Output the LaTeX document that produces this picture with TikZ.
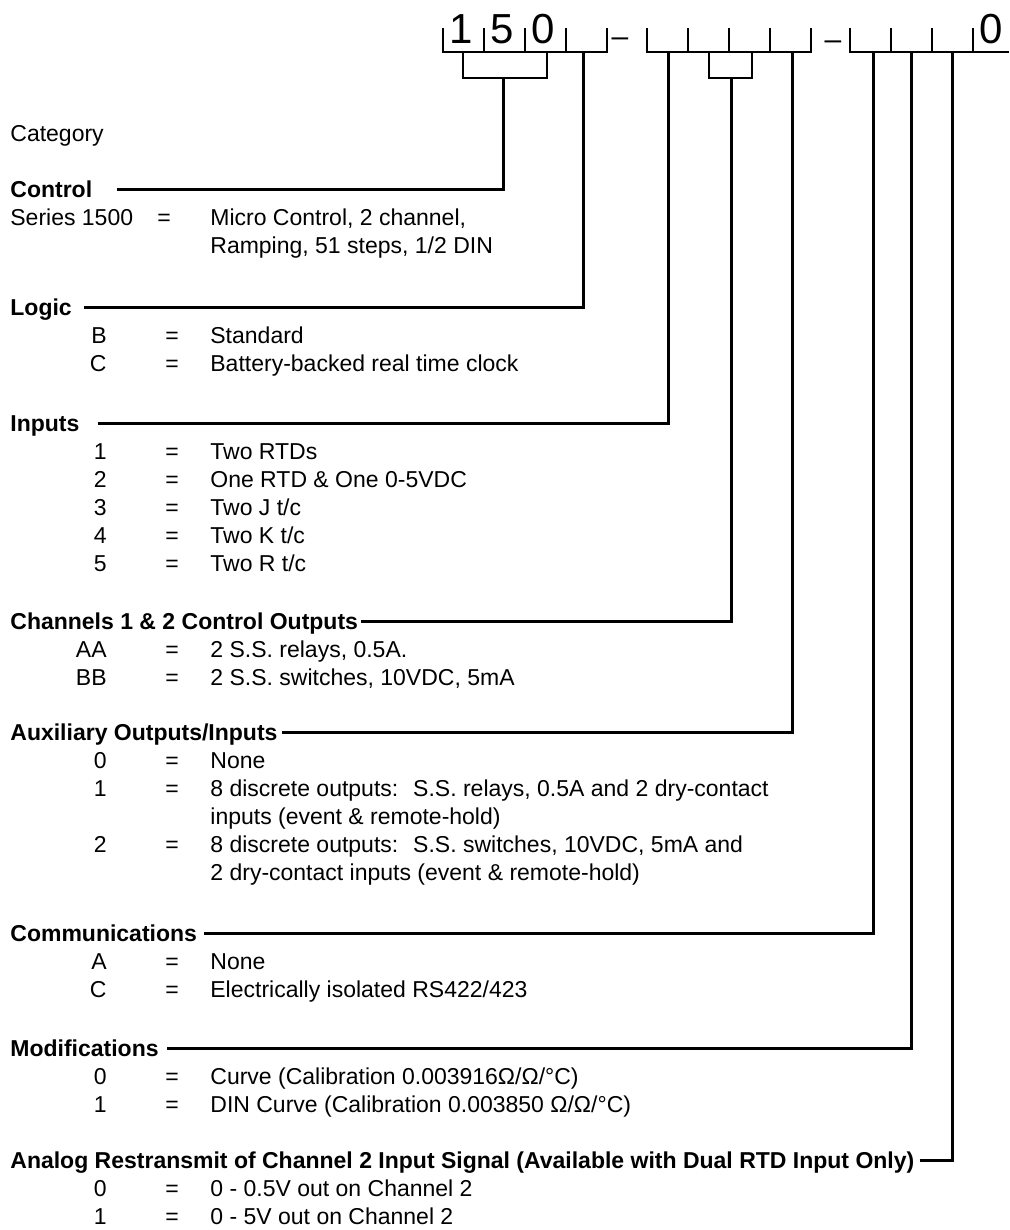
\documentclass[tikz,border=0pt]{standalone}
\usepackage{fontspec}
\setmainfont{Liberation Sans}
\usepackage{tikz}

\begin{document}
\begin{tikzpicture}[x=0.5pt,y=-0.5pt,
  hd/.style={anchor=base west,inner sep=0pt,text height=8pt,text depth=0pt,font=\fontsize{11.5}{14}\selectfont\bfseries},
  plain/.style={anchor=base west,inner sep=0pt,font=\fontsize{11.5}{14}\selectfont},
  code/.style={anchor=base east,inner sep=0pt,font=\fontsize{11.5}{14}\selectfont},
  eq/.style={anchor=base,inner sep=0pt,font=\fontsize{11.5}{14}\selectfont},
  desc/.style={anchor=base west,inner sep=0pt,font=\fontsize{11.5}{14}\selectfont},
  digit/.style={anchor=base,inner sep=0pt,font=\fontsize{21}{24}\selectfont},
  hyph/.style={anchor=base,inner sep=0pt,font=\fontsize{15}{18}\selectfont},
  slot/.style={line width=1.4pt},
  lead/.style={line width=1.5pt}]
\fill[white] (0,0) rectangle (1009,1230) ;
\useasboundingbox (0,0) rectangle (1009,1230) ;
% part number boxes
\draw[slot] (443,28) -- (443,52) -- (607,52) -- (607,28) ;
\foreach \x in {484,525,566} \draw[slot] (\x,28) -- (\x,52) ;
\draw[slot] (647,28) -- (647,52) -- (811,52) -- (811,28) ;
\foreach \x in {688,729,770} \draw[slot] (\x,28) -- (\x,52) ;
\draw[slot] (850,28) -- (850,52) -- (1009,52) ;
\foreach \x in {891,932,973} \draw[slot] (\x,28) -- (\x,52) ;
\node[digit] (d1) at (461,44) {1} ;
\node[digit] (d2) at (502,44) {5} ;
\node[digit] (d3) at (543,44) {0} ;
\node[digit] (d4) at (991,44) {0} ;
\node[hyph] (h1) at (620,47) {–} ;
\node[hyph] (h2) at (833,50) {–} ;
% brackets under grouped slots
\draw[slot] (463,52) -- (463,78) -- (547,78) -- (547,52) ;
\draw[slot] (709,52) -- (709,78) -- (752,78) -- (752,52) ;
\coordinate (b1) at (503,78) ;
\coordinate (b2) at (731,78) ;
\coordinate (s4) at (583,52) ;
\coordinate (s5) at (668,52) ;
\coordinate (s8) at (792,52) ;
\coordinate (s9) at (873,52) ;
\coordinate (s10) at (911,52) ;
\coordinate (s11) at (952,52) ;

\node[plain] (cat) at (10,142) {Category} ;

\node[hd] (ctl) at (10,198) {Control} ;
\node[desc] (ctl0) at (10,226) {Series 1500} ;
\node[eq] (ctl0e) at (164,226) {=} ;
\node[desc] (ctl0d) at (210,226) {Micro Control, 2 channel,} ;
\node[desc] (ctl0f) at (210,254) {Ramping, 51 steps, 1/2 DIN} ;

\node[hd] (lgc) at (10,315) {Logic} ;
\node[code] (lgc1) at (107,343) {B} ; \node[eq] (lgc1e) at (172,343) {=} ; \node[desc] (lgc1d) at (210,343) {Standard} ;
\node[code] (lgc2) at (107,371) {C} ; \node[eq] (lgc2e) at (172,371) {=} ; \node[desc] (lgc2d) at (210,371) {Battery-backed real time clock} ;

\node[hd] (inp) at (10,431) {Inputs} ;
\node[code] (inp1) at (107,459) {1} ; \node[eq] (inp1e) at (172,459) {=} ; \node[desc] (inp1d) at (210,459) {Two RTDs} ;
\node[code] (inp2) at (107,487) {2} ; \node[eq] (inp2e) at (172,487) {=} ; \node[desc] (inp2d) at (210,487) {One RTD \& One 0-5VDC} ;
\node[code] (inp3) at (107,515) {3} ; \node[eq] (inp3e) at (172,515) {=} ; \node[desc] (inp3d) at (210,515) {Two J t/c} ;
\node[code] (inp4) at (107,543) {4} ; \node[eq] (inp4e) at (172,543) {=} ; \node[desc] (inp4d) at (210,543) {Two K t/c} ;
\node[code] (inp5) at (107,571) {5} ; \node[eq] (inp5e) at (172,571) {=} ; \node[desc] (inp5d) at (210,571) {Two R t/c} ;

\node[hd] (chn) at (10,629) {Channels 1 \& 2 Control Outputs} ;
\node[code] (chn1) at (107,657) {AA} ; \node[eq] (chn1e) at (172,657) {=} ; \node[desc] (chn1d) at (210,657) {2 S.S. relays, 0.5A.} ;
\node[code] (chn2) at (107,685) {BB} ; \node[eq] (chn2e) at (172,685) {=} ; \node[desc] (chn2d) at (210,685) {2 S.S. switches, 10VDC, 5mA} ;

\node[hd] (aux) at (10,740) {Auxiliary Outputs/Inputs} ;
\node[code] (aux0) at (107,768) {0} ; \node[eq] (aux0e) at (172,768) {=} ; \node[desc] (aux0d) at (210,768) {None} ;
\node[code] (aux1) at (107,796) {1} ; \node[eq] (aux1e) at (172,796) {=} ; \node[desc] (aux1d) at (210,796) {8 discrete outputs:~ S.S. relays, 0.5A and 2 dry-contact} ;
\node[desc] (aux1f) at (210,824) {inputs (event \& remote-hold)} ;
\node[code] (aux2) at (107,852) {2} ; \node[eq] (aux2e) at (172,852) {=} ; \node[desc] (aux2d) at (210,852) {8 discrete outputs:~ S.S. switches, 10VDC, 5mA and} ;
\node[desc] (aux2f) at (210,880) {2 dry-contact inputs (event \& remote-hold)} ;

\node[hd] (com) at (10,941) {Communications} ;
\node[code] (com1) at (107,969) {A} ; \node[eq] (com1e) at (172,969) {=} ; \node[desc] (com1d) at (210,969) {None} ;
\node[code] (com2) at (107,997) {C} ; \node[eq] (com2e) at (172,997) {=} ; \node[desc] (com2d) at (210,997) {Electrically isolated RS422/423} ;

\node[hd] (mod) at (10,1056) {Modifications} ;
\node[code] (mod0) at (107,1084) {0} ; \node[eq] (mod0e) at (172,1084) {=} ; \node[desc] (mod0d) at (210,1084) {Curve (Calibration 0.003916Ω/Ω/°C)} ;
\node[code] (mod1) at (107,1112) {1} ; \node[eq] (mod1e) at (172,1112) {=} ; \node[desc] (mod1d) at (210,1112) {DIN Curve (Calibration 0.003850 Ω/Ω/°C)} ;

\node[hd] (ana) at (10,1168) {Analog Restransmit of Channel 2 Input Signal (Available with Dual RTD Input Only)} ;
\node[code] (ana0) at (107,1196) {0} ; \node[eq] (ana0e) at (172,1196) {=} ; \node[desc] (ana0d) at (210,1196) {0 - 0.5V out on Channel 2} ;
\node[code] (ana1) at (107,1224) {1} ; \node[eq] (ana1e) at (172,1224) {=} ; \node[desc] (ana1d) at (210,1224) {0 - 5V out on Channel 2} ;

% leaders
\draw[lead] ([xshift=12pt]ctl.east) -| (b1) ;
\draw[lead] ([xshift=6pt]lgc.east) -| (s4) ;
\draw[lead] ([xshift=9pt]inp.east) -| (s5) ;
\draw[lead] ([xshift=1.5pt]chn.east) -| (b2) ;
\draw[lead] ([xshift=2pt]aux.east) -| (s8) ;
\draw[lead] ([xshift=3.5pt]com.east) -| (s9) ;
\draw[lead] ([xshift=4pt]mod.east) -| (s10) ;
\draw[lead] ([xshift=2.5pt]ana.east) -| (s11) ;
\end{tikzpicture}
\end{document}
